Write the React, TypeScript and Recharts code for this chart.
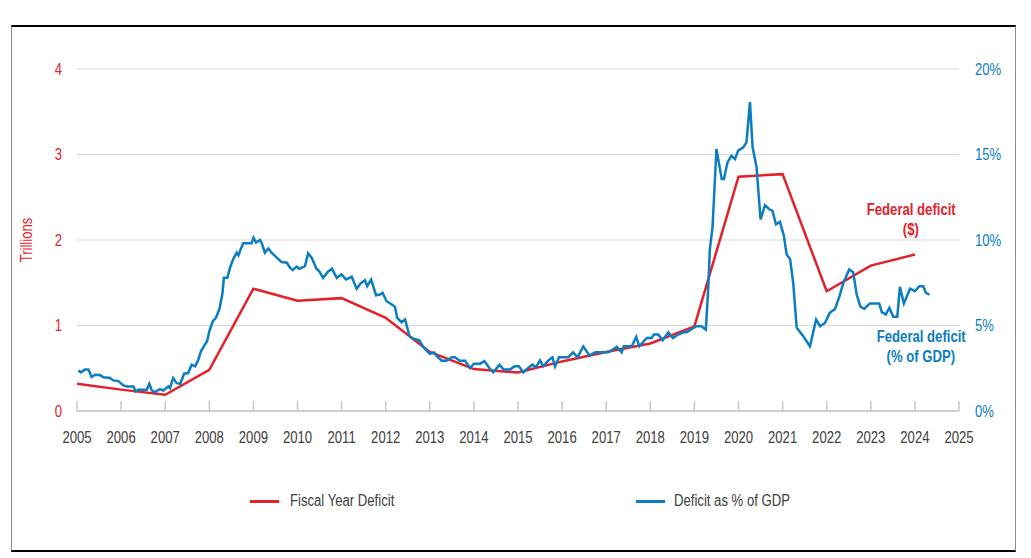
import React from 'react'
import { LineChart, Line, XAxis, YAxis, CartesianGrid } from 'recharts'

// fiscal-year deficit, trillions of dollars
const fyYears = [2005, 2006, 2007, 2008, 2009, 2010, 2011, 2012, 2013, 2014, 2015, 2016, 2017, 2018, 2019, 2020, 2021, 2022, 2023, 2024]
const fyDeficit = [0.32, 0.25, 0.19, 0.48, 1.43, 1.29, 1.32, 1.09, 0.69, 0.49, 0.45, 0.58, 0.69, 0.79, 0.99, 2.74, 2.77, 1.40, 1.70, 1.83]

// rolling deficit as % of GDP (decimal year, percent)
const gdpDates = [
  2005.03, 2005.09, 2005.18, 2005.26, 2005.33, 2005.41, 2005.52, 2005.60, 2005.75, 2005.82, 2005.94,
  2006.05, 2006.13, 2006.28, 2006.33, 2006.39, 2006.58, 2006.64, 2006.69, 2006.75, 2006.88, 2006.96,
  2007.07, 2007.11, 2007.18, 2007.26, 2007.34, 2007.43, 2007.52, 2007.60, 2007.68, 2007.75, 2007.81, 2007.90, 2007.95,
  2008.00, 2008.08, 2008.15, 2008.23, 2008.30, 2008.33, 2008.41, 2008.47, 2008.54, 2008.62, 2008.66, 2008.71, 2008.77, 2008.96,
  2009.00, 2009.06, 2009.15, 2009.19, 2009.26, 2009.34, 2009.41, 2009.53, 2009.64, 2009.76, 2009.83, 2009.89, 2009.98,
  2010.04, 2010.17, 2010.24, 2010.32, 2010.43, 2010.49, 2010.58, 2010.68, 2010.78, 2010.89,
  2011.00, 2011.10, 2011.23, 2011.34, 2011.43, 2011.53, 2011.58, 2011.67, 2011.78, 2011.87, 2011.93,
  2012.02, 2012.14, 2012.21, 2012.26, 2012.36, 2012.44, 2012.54, 2012.64, 2012.76, 2012.85,
  2013.00, 2013.10, 2013.16, 2013.27, 2013.38, 2013.50, 2013.57, 2013.68, 2013.80, 2013.91,
  2014.00, 2014.14, 2014.24, 2014.35, 2014.44, 2014.58, 2014.67, 2014.82, 2014.92,
  2015.02, 2015.12, 2015.23, 2015.33, 2015.41, 2015.50, 2015.57, 2015.69, 2015.78, 2015.84, 2015.93,
  2016.14, 2016.25, 2016.35, 2016.48, 2016.62, 2016.75,
  2017.05, 2017.24, 2017.35, 2017.40, 2017.58, 2017.68, 2017.75, 2017.92,
  2018.03, 2018.08, 2018.18, 2018.28, 2018.41, 2018.51, 2018.63, 2018.75, 2018.82, 2018.98,
  2019.05, 2019.16, 2019.26, 2019.32, 2019.35, 2019.41, 2019.50, 2019.62, 2019.67, 2019.75, 2019.84, 2019.92, 2019.99,
  2020.11, 2020.18, 2020.26, 2020.32, 2020.41, 2020.50, 2020.60, 2020.70, 2020.77, 2020.85, 2020.94,
  2021.03, 2021.09, 2021.17, 2021.24, 2021.32, 2021.47, 2021.62, 2021.76, 2021.85, 2021.96,
  2022.07, 2022.19, 2022.29, 2022.38, 2022.51, 2022.60, 2022.68, 2022.76, 2022.85, 2022.98,
  2023.19, 2023.25, 2023.34, 2023.42, 2023.51, 2023.60, 2023.66, 2023.75, 2023.89,
  2024.00, 2024.10, 2024.19, 2024.25, 2024.33,
]
const gdpPct = [
  2.37, 2.26, 2.42, 2.42, 1.99, 2.12, 2.10, 1.97, 1.93, 1.79, 1.75,
  1.50, 1.44, 1.44, 1.14, 1.24, 1.24, 1.59, 1.24, 1.09, 1.28, 1.20,
  1.44, 1.34, 1.93, 1.63, 1.59, 2.18, 2.22, 2.71, 2.61, 3.00, 3.49, 3.88, 4.08,
  4.66, 5.25, 5.45, 5.97, 6.91, 7.79, 7.79, 8.38, 8.87, 9.26, 9.10, 9.45, 9.81, 9.81,
  10.14, 9.85, 10.00, 9.81, 9.26, 9.50, 9.26, 8.97, 8.71, 8.67, 8.38, 8.24, 8.44,
  8.32, 8.47, 9.22, 8.97, 8.32, 8.18, 7.79, 8.12, 8.32, 7.79,
  7.99, 7.69, 7.85, 7.15, 7.46, 7.65, 7.30, 7.69, 6.77, 6.81, 6.91,
  6.42, 6.23, 6.09, 5.45, 5.19, 5.35, 4.37, 4.21, 4.14, 3.75,
  3.35, 3.43, 3.20, 2.94, 2.94, 3.14, 3.14, 2.94, 2.94, 2.51,
  2.77, 2.77, 2.92, 2.51, 2.26, 2.71, 2.42, 2.42, 2.61,
  2.61, 2.26, 2.51, 2.71, 2.57, 2.96, 2.61, 2.96, 3.14, 2.61, 3.14,
  3.14, 3.43, 3.14, 3.78, 3.24, 3.43,
  3.43, 3.75, 3.43, 3.78, 3.78, 4.33, 3.78, 4.27,
  4.27, 4.47, 4.47, 4.14, 4.60, 4.27, 4.47, 4.60, 4.60, 4.86,
  4.96, 4.96, 4.76, 7.50, 9.45, 10.72, 15.32, 13.56, 13.56, 14.54, 14.93, 14.73, 15.22,
  15.42, 15.71, 18.06, 15.42, 14.25, 11.21, 12.03, 11.80, 11.70, 10.92, 11.06,
  10.23, 9.16, 8.87, 7.50, 4.86, 4.37, 3.78, 5.35, 4.96, 5.15,
  5.74, 5.97, 6.72, 7.50, 8.28, 8.12, 6.81, 6.13, 5.97, 6.29,
  6.29, 5.78, 5.64, 6.03, 5.51, 5.51, 7.26, 6.29, 7.15,
  7.01, 7.30, 7.30, 6.91, 6.81,
]

const yearTicks = [2005, 2006, 2007, 2008, 2009, 2010, 2011, 2012, 2013, 2014, 2015, 2016, 2017, 2018, 2019, 2020, 2021, 2022, 2023, 2024, 2025]
const trillionTicks = [0, 1, 2, 3, 4]
const pctTicks = [0, 5, 10, 15, 20]

const RED = '#e2212b'
const BLUE = '#0b7dc0'
const GREY_TEXT = '#404040'
const FONT = "'Liberation Sans', Arial, sans-serif"
const NARROW = 0.82 // squeeze Liberation Sans into an Arial Narrow look

const fyData = fyYears.map((t, i) => ({ t, v: fyDeficit[i] }))
const gdpData = gdpDates.map((t, i) => ({ t, pct: gdpPct[i] }))

const NarrowText = ({ x, y, anchor, fill, children, dy }: any) => (
  <text
    transform={`translate(${x},${y}) scale(${NARROW},1)`}
    x={0} y={0} dy={dy} textAnchor={anchor} fill={fill} fontSize={16} fontFamily={FONT}
  >
    {children}
  </text>
)

const YearTick = (props: any) => {
  const { x, y, payload } = props
  return (
    <g>
      <line x1={x} x2={x} y1={y - 10} y2={y} stroke="#c6c6c6" strokeWidth={1.5} />
      <NarrowText x={x} y={y + 32} anchor="middle" fill={GREY_TEXT}>{payload.value}</NarrowText>
    </g>
  )
}

const LeftTick = (props: any) => (
  <NarrowText x={props.x} y={props.y} dy="0.355em" anchor="end" fill={RED}>{props.payload.value}</NarrowText>
)

const RightTick = (props: any) => (
  <NarrowText x={props.x} y={props.y} dy="0.355em" anchor="start" fill={BLUE}>{`${props.payload.value}%`}</NarrowText>
)

const squeeze = (origin: string): React.CSSProperties => ({
  display: 'inline-block', transform: `scaleX(${NARROW})`, transformOrigin: origin,
})

const abs = (left: number, top: number): React.CSSProperties => ({
  position: 'absolute', left, top, fontFamily: FONT, fontSize: 16, lineHeight: '20px', whiteSpace: 'nowrap',
})

export default function App() {
  return (
    <div style={{ position: 'absolute', left: 0, top: 0, width: 1031, height: 558, background: '#fff' }}>
      <div style={{
        position: 'absolute', left: 11, top: 25, width: 1003, height: 523,
        borderTop: '2px solid #000', borderBottom: '2px solid #000',
        borderLeft: '1.5px solid #8c8c8c', borderRight: '1.5px solid #8c8c8c',
      }} />
      <div style={{ position: 'absolute', left: 0, top: 0 }}>
        <LineChart width={1031} height={558} data={fyData} margin={{ top: 69, right: 12, bottom: 117, left: 17 }}>
          <CartesianGrid yAxisId="left" horizontal vertical={false} stroke="#d9d9d9" strokeWidth={1.2} />
          <XAxis
            dataKey="t" type="number" domain={[2005, 2025]} ticks={yearTicks} interval={0}
            height={30} tickSize={0} tickMargin={0} tickLine={false}
            axisLine={{ stroke: '#c6c6c6', strokeWidth: 1.5 }}
            tick={<YearTick />}
          />
          <YAxis
            yAxisId="left" orientation="left" domain={[0, 4]} ticks={trillionTicks} width={60}
            axisLine={false} tickLine={false} tickSize={6} tickMargin={9}
            tick={<LeftTick />}
          />
          <YAxis
            yAxisId="right" orientation="right" domain={[0, 20]} ticks={pctTicks} width={60}
            axisLine={false} tickLine={false} tickSize={6} tickMargin={10}
            tick={<RightTick />}
          />
          <Line yAxisId="left" data={fyData} dataKey="v" type="linear" stroke={RED} strokeWidth={2.5} dot={false} isAnimationActive={false} />
          <Line yAxisId="right" data={gdpData} dataKey="pct" type="linear" stroke={BLUE} strokeWidth={2.5} dot={false} isAnimationActive={false} />
        </LineChart>
      </div>

      <div style={{ ...abs(-13, 230), width: 80, textAlign: 'center', color: RED, transform: `rotate(-90deg) scaleX(${NARROW})` }}>
        Trillions
      </div>

      <div style={{ ...abs(850, 200), width: 122, textAlign: 'center', color: RED, fontWeight: 'bold' }}>
        <span style={squeeze('center')}>Federal deficit</span><br /><span style={squeeze('center')}>($)</span>
      </div>
      <div style={{ ...abs(860, 327), width: 122, textAlign: 'center', color: BLUE, fontWeight: 'bold' }}>
        <span style={squeeze('center')}>Federal deficit</span><br /><span style={squeeze('center')}>(% of GDP)</span>
      </div>

      <div style={{ position: 'absolute', left: 250, top: 500, width: 29, height: 3, background: RED }} />
      <div style={{ ...abs(290, 491), color: GREY_TEXT }}><span style={squeeze('left')}>Fiscal Year Deficit</span></div>
      <div style={{ position: 'absolute', left: 636, top: 500, width: 29, height: 3, background: BLUE }} />
      <div style={{ ...abs(674, 491), color: GREY_TEXT }}><span style={squeeze('left')}>Deficit as % of GDP</span></div>
    </div>
  )
}
